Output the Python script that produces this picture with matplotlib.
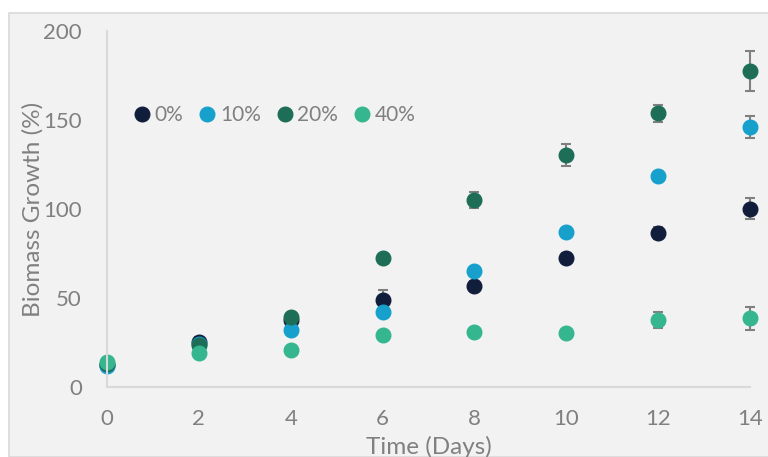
import matplotlib.pyplot as plt
from matplotlib.patches import Rectangle
from matplotlib.lines import Line2D

days = [0, 2, 4, 6, 8, 10, 12, 14]
labels = ["0%", "10%", "20%", "40%"]
colors = ["#111e3b", "#17a0cc", "#1e6e57", "#35b68f"]

growth_0 = [12.5, 25.3, 37.6, 48.9, 56.7, 72.6, 86.6, 100.2]
growth_10 = [12.0, 24.0, 32.0, 42.0, 65.3, 87.1, 118.6, 146.0]
growth_20 = [13.0, 23.6, 39.3, 72.3, 105.0, 130.2, 153.8, 177.5]
growth_40 = [14.0, 19.0, 20.8, 29.0, 31.0, 30.5, 37.7, 38.7]

err_0 = [1.0, 3.0, 2.0, 5.5, 3.0, 2.5, 3.5, 5.7]
err_10 = [1.0, 1.0, 1.0, 1.0, 1.5, 1.5, 1.0, 6.0]
err_20 = [1.0, 2.0, 2.0, 2.0, 4.4, 6.3, 4.7, 11.0]
err_40 = [1.0, 1.0, 1.0, 1.0, 1.0, 1.0, 4.7, 6.4]

series = [growth_0, growth_10, growth_20, growth_40]
errors = [err_0, err_10, err_20, err_40]

plt.rcParams["font.family"] = ["Lato", "DejaVu Sans"]
grey = "#808080"

fig = plt.figure(figsize=(7.68, 4.57), dpi=100)
fig.patches.append(Rectangle((9 / 768, 0), 1, 1 - 13 / 457, transform=fig.transFigure,
                             facecolor="#f2f2f2", edgecolor="#d9d9d9", linewidth=1.2, zorder=-5))

ax = fig.add_axes([107 / 768, 1 - 387 / 457, (750 - 107) / 768, (387 - 31) / 457])
ax.set_facecolor("none")

for vals, err, col in zip(series, errors, colors):
    ax.errorbar(days, vals, yerr=err, fmt="o", color=col, ecolor=grey, elinewidth=1.5,
                capsize=3.5, capthick=1.5, markersize=10.5, clip_on=False)

ax.set_xlim(0, 14)
ax.set_ylim(0, 200)
ax.set_xticks(days)
ax.set_yticks([0, 50, 100, 150, 200])
ax.tick_params(length=0, labelsize=16, labelcolor=grey)
ax.tick_params(axis="y", pad=18)
ax.tick_params(axis="x", pad=16)

for s in ["top", "right"]:
    ax.spines[s].set_visible(False)
for s in ["left", "bottom"]:
    ax.spines[s].set_color("#d9d9d9")
    ax.spines[s].set_linewidth(1.5)

ax.set_ylabel("Biomass Growth (%)", fontsize=17.5, color=grey, labelpad=0)
ax.set_xlabel("Time (Days)", fontsize=17.5, color=grey, labelpad=5)

handles = [Line2D([], [], ls="none", marker="o", markersize=10.5, color=c) for c in colors]
ax.legend(handles, labels, loc="upper left", bbox_to_anchor=(0.006, 0.845), ncol=4, frameon=False,
          fontsize=15, labelcolor=grey, handletextpad=0.0, columnspacing=0.55,
          handlelength=1.2)

fig.savefig("out.png", dpi=100)
